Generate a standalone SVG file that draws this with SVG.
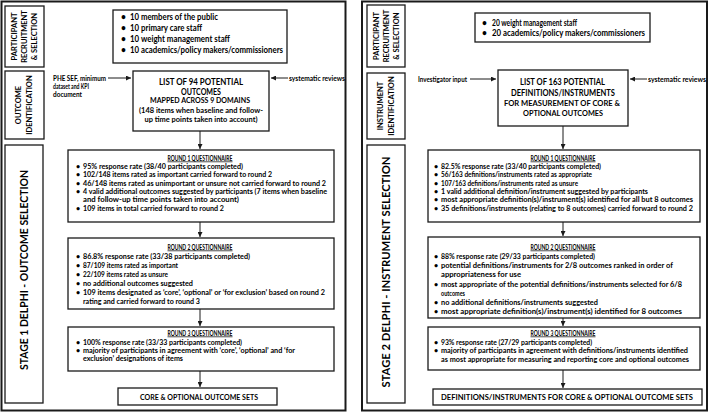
<svg xmlns="http://www.w3.org/2000/svg" width="709" height="413" viewBox="0 0 709 413">
<defs>
<style>
text{font-family:Lato,"Liberation Sans",sans-serif;font-weight:bold;fill:#000}
.s{font-size:7.2px}
.m{font-size:8.5px}
.t{font-size:7.5px}
.big{font-size:11.5px}
.h{font-size:7px;text-decoration:underline}
.box{fill:#fff;stroke:#1a1a1a;stroke-width:1.3}
.frame{fill:none;stroke:#1a1a1a;stroke-width:2}
.ln{stroke:#1a1a1a;stroke-width:1;fill:none}
</style>
<marker id="ah" viewBox="0 0 6 6" refX="6" refY="3" markerWidth="5" markerHeight="5" markerUnits="userSpaceOnUse" orient="auto"><path d="M0,0 L6,3 L0,6 z" fill="#1a1a1a"/></marker>
</defs>
<rect width="709" height="413" fill="#fff"/>
<g id="panels">
<rect class="frame" x="1.5" y="1.5" width="344" height="409"/>
<rect class="frame" x="362" y="1.5" width="345" height="409"/>
</g>
<g id="connectors">
<line class="ln" x1="108" y1="78" x2="131" y2="78" marker-end="url(#ah)"/>
<line class="ln" x1="288" y1="78" x2="271" y2="78" marker-end="url(#ah)"/>
<line class="ln" x1="200" y1="131" x2="200" y2="149" marker-end="url(#ah)"/>
<line class="ln" x1="200" y1="222" x2="200" y2="237" marker-end="url(#ah)"/>
<line class="ln" x1="200" y1="309" x2="200" y2="326" marker-end="url(#ah)"/>
<line class="ln" x1="200" y1="371" x2="200" y2="387" marker-end="url(#ah)"/>
<line class="ln" x1="470" y1="79" x2="496" y2="79" marker-end="url(#ah)"/>
<line class="ln" x1="647" y1="79" x2="630" y2="79" marker-end="url(#ah)"/>
<line class="ln" x1="563" y1="126" x2="563" y2="149" marker-end="url(#ah)"/>
<line class="ln" x1="563" y1="222" x2="563" y2="236" marker-end="url(#ah)"/>
<line class="ln" x1="563" y1="318" x2="563" y2="326" marker-end="url(#ah)"/>
<line class="ln" x1="563" y1="370" x2="563" y2="388" marker-end="url(#ah)"/>
</g>
<g id="l-participant">
<rect class="box" x="5" y="6" width="39" height="61"/>
<text class="t" text-anchor="middle" transform="translate(17.3,36.5) rotate(-90)">PARTICIPANT</text>
<text class="t" text-anchor="middle" transform="translate(27.3,36.5) rotate(-90)">RECRUITMENT</text>
<text class="t" text-anchor="middle" transform="translate(37.3,36.5) rotate(-90)">&amp; SELECTION</text>
</g>
<g id="l-outcome-id">
<rect class="box" x="5" y="71" width="39" height="68"/>
<text class="t" text-anchor="middle" transform="translate(21,105) rotate(-90)">OUTCOME</text>
<text class="t" text-anchor="middle" transform="translate(32,105) rotate(-90)">IDENTIFICATION</text>
</g>
<g id="l-stage1">
<rect class="box" x="5" y="145" width="38" height="258"/>
<text class="big" text-anchor="middle" textLength="200" lengthAdjust="spacingAndGlyphs" transform="translate(27.5,270) rotate(-90)">STAGE 1 DELPHI  -  OUTCOME  SELECTION</text>
</g>
<g id="l-members">
<rect class="box" x="113" y="10" width="174" height="53"/>
<text class="m" x="121" y="20">•</text><text class="m" x="130" y="20" textLength="88" lengthAdjust="spacingAndGlyphs">10 members of the public</text>
<text class="m" x="121" y="31">•</text><text class="m" x="130" y="31" textLength="72" lengthAdjust="spacingAndGlyphs">10 primary care staff</text>
<text class="m" x="121" y="42">•</text><text class="m" x="130" y="42" textLength="100" lengthAdjust="spacingAndGlyphs">10 weight management staff</text>
<text class="m" x="121" y="53">•</text><text class="m" x="130" y="53" textLength="153" lengthAdjust="spacingAndGlyphs">10 academics/policy makers/commissioners</text>
</g>
<g id="l-sources">
<text class="s" x="53" y="80.5" textLength="53" lengthAdjust="spacingAndGlyphs">PHE SEF, minimum</text>
<text class="s" x="53" y="88.5" textLength="36" lengthAdjust="spacingAndGlyphs">dataset and KPI</text>
<text class="s" x="53" y="96.5" textLength="29" lengthAdjust="spacingAndGlyphs">document</text>
<text class="s" x="289" y="80.5" textLength="56" lengthAdjust="spacingAndGlyphs">systematic reviews</text>
</g>
<g id="l-list">
<rect class="box" x="133" y="71" width="136" height="60"/>
<text class="m" x="201" y="84.5" text-anchor="middle" textLength="84" lengthAdjust="spacingAndGlyphs">LIST OF 94 POTENTIAL</text>
<text class="m" x="201" y="94.5" text-anchor="middle" textLength="40" lengthAdjust="spacingAndGlyphs">OUTCOMES</text>
<text class="s" x="200" y="103" text-anchor="middle" textLength="100" lengthAdjust="spacingAndGlyphs">MAPPED ACROSS 9 DOMAINS</text>
<text class="s" x="201" y="112.5" text-anchor="middle" textLength="124" lengthAdjust="spacingAndGlyphs">(148 items when baseline and follow-</text>
<text class="s" x="201" y="121.5" text-anchor="middle" textLength="113" lengthAdjust="spacingAndGlyphs">up time points taken into account)</text>
</g>
<g id="l-round1">
<rect class="box" x="68" y="150" width="266" height="72"/>
<text class="h" x="200" y="160.5" text-anchor="middle" textLength="65" lengthAdjust="spacingAndGlyphs">ROUND 1 QUESTIONNAIRE</text>
<text class="s" x="76" y="168.5">•</text><text class="s" x="83" y="168.5" textLength="160" lengthAdjust="spacingAndGlyphs">95% response rate (38/40 participants completed)</text>
<text class="s" x="76" y="177">•</text><text class="s" x="83" y="177" textLength="189" lengthAdjust="spacingAndGlyphs">102/148 items rated as important carried forward to round 2</text>
<text class="s" x="76" y="185.5">•</text><text class="s" x="83" y="185.5" textLength="243" lengthAdjust="spacingAndGlyphs">46/148 items rated as unimportant or unsure not carried forward to round 2</text>
<text class="s" x="76" y="193.5">•</text><text class="s" x="83" y="193.5" textLength="244" lengthAdjust="spacingAndGlyphs">4 valid additional outcomes suggested by participants (7 items when baseline</text>
<text class="s" x="83" y="202" textLength="156" lengthAdjust="spacingAndGlyphs">and follow-up time points taken into account)</text>
<text class="s" x="76" y="210.5">•</text><text class="s" x="83" y="210.5" textLength="141" lengthAdjust="spacingAndGlyphs">109 items in total carried forward to round 2</text>
</g>
<g id="l-round2">
<rect class="box" x="68" y="238" width="266" height="71"/>
<text class="h" x="200" y="249.5" text-anchor="middle" textLength="65" lengthAdjust="spacingAndGlyphs">ROUND 2 QUESTIONNAIRE</text>
<text class="s" x="76" y="258.5">•</text><text class="s" x="83" y="258.5" textLength="167" lengthAdjust="spacingAndGlyphs">86.8% response rate (33/38 participants completed)</text>
<text class="s" x="76" y="267.5">•</text><text class="s" x="83" y="267.5" textLength="95" lengthAdjust="spacingAndGlyphs">87/109 items rated as important</text>
<text class="s" x="76" y="277">•</text><text class="s" x="83" y="277" textLength="85" lengthAdjust="spacingAndGlyphs">22/109 items rated as unsure</text>
<text class="s" x="76" y="286">•</text><text class="s" x="83" y="286" textLength="110" lengthAdjust="spacingAndGlyphs">no additional outcomes suggested</text>
<text class="s" x="76" y="295">•</text><text class="s" x="83" y="295" textLength="242" lengthAdjust="spacingAndGlyphs">109 items designated as ‘core’, ‘optional’ or ‘for exclusion’ based on round 2</text>
<text class="s" x="83" y="304" textLength="117" lengthAdjust="spacingAndGlyphs">rating and carried forward to round 3</text>
</g>
<g id="l-round3">
<rect class="box" x="68" y="327" width="266" height="44"/>
<text class="h" x="200" y="335.5" text-anchor="middle" textLength="65" lengthAdjust="spacingAndGlyphs">ROUND 3 QUESTIONNAIRE</text>
<text class="s" x="76" y="344.5">•</text><text class="s" x="83" y="344.5" textLength="159" lengthAdjust="spacingAndGlyphs">100% response rate (33/33 participants completed)</text>
<text class="s" x="76" y="353">•</text><text class="s" x="83" y="353" textLength="212" lengthAdjust="spacingAndGlyphs">majority of participants in agreement with ‘core’, ‘optional’ and ‘for</text>
<text class="s" x="83" y="361" textLength="100" lengthAdjust="spacingAndGlyphs">exclusion’ designations of items</text>
</g>
<g id="l-core">
<rect class="box" x="118" y="388" width="159" height="17"/>
<text class="t" x="199" y="399.5" text-anchor="middle" textLength="118" lengthAdjust="spacingAndGlyphs">CORE &amp; OPTIONAL OUTCOME SETS</text>
</g>
<g id="r-participant">
<rect class="box" x="367" y="5" width="38" height="62"/>
<text class="t" text-anchor="middle" transform="translate(379,36) rotate(-90)">PARTICIPANT</text>
<text class="t" text-anchor="middle" transform="translate(389,36) rotate(-90)">RECRUITMENT</text>
<text class="t" text-anchor="middle" transform="translate(399,36) rotate(-90)">&amp; SELECTION</text>
</g>
<g id="r-instrument-id">
<rect class="box" x="367" y="73" width="38" height="66"/>
<text class="t" text-anchor="middle" transform="translate(383,106) rotate(-90)">INSTRUMENT</text>
<text class="t" text-anchor="middle" transform="translate(394,106) rotate(-90)">IDENTIFICATION</text>
</g>
<g id="r-stage2">
<rect class="box" x="367" y="145" width="38" height="258"/>
<text class="big" text-anchor="middle" textLength="231" lengthAdjust="spacingAndGlyphs" transform="translate(390,272) rotate(-90)">STAGE 2 DELPHI  -  INSTRUMENT  SELECTION</text>
</g>
<g id="r-members">
<rect class="box" x="475" y="13" width="175" height="29"/>
<text class="m" x="482" y="26">•</text><text class="m" x="492" y="26" textLength="85" lengthAdjust="spacingAndGlyphs">20 weight management staff</text>
<text class="m" x="482" y="36">•</text><text class="m" x="492" y="36" textLength="153" lengthAdjust="spacingAndGlyphs">20 academics/policy makers/commissioners</text>
</g>
<g id="r-sources">
<text class="s" x="418" y="81.5" textLength="49" lengthAdjust="spacingAndGlyphs">Investigator input</text>
<text class="s" x="648" y="81.5" textLength="58" lengthAdjust="spacingAndGlyphs">systematic reviews</text>
</g>
<g id="r-list">
<rect class="box" x="498" y="70" width="130" height="56"/>
<text class="m" x="562.5" y="85" text-anchor="middle" textLength="85" lengthAdjust="spacingAndGlyphs">LIST OF 163 POTENTIAL</text>
<text class="m" x="563" y="95.5" text-anchor="middle" textLength="104" lengthAdjust="spacingAndGlyphs">DEFINITIONS/INSTRUMENTS</text>
<text class="s" x="562" y="105.5" text-anchor="middle" textLength="116" lengthAdjust="spacingAndGlyphs">FOR MEASUREMENT OF CORE &amp;</text>
<text class="s" x="563" y="116" text-anchor="middle" textLength="80" lengthAdjust="spacingAndGlyphs">OPTIONAL OUTCOMES</text>
</g>
<g id="r-round1">
<rect class="box" x="428" y="150" width="272" height="72"/>
<text class="h" x="563" y="160.5" text-anchor="middle" textLength="65" lengthAdjust="spacingAndGlyphs">ROUND 1 QUESTIONNAIRE</text>
<text class="s" x="434" y="168.5">•</text><text class="s" x="441" y="168.5" textLength="160" lengthAdjust="spacingAndGlyphs">82.5% response rate (33/40 participants completed)</text>
<text class="s" x="434" y="177">•</text><text class="s" x="441" y="177" textLength="151" lengthAdjust="spacingAndGlyphs">56/163 definitions/instruments rated as appropriate</text>
<text class="s" x="434" y="185.5">•</text><text class="s" x="441" y="185.5" textLength="137" lengthAdjust="spacingAndGlyphs">107/163 definitions/instruments rated as unsure</text>
<text class="s" x="434" y="193.5">•</text><text class="s" x="441" y="193.5" textLength="207" lengthAdjust="spacingAndGlyphs">1 valid additional definition/instrument suggested by participants</text>
<text class="s" x="434" y="202">•</text><text class="s" x="441" y="202" textLength="252" lengthAdjust="spacingAndGlyphs">most appropriate definition(s)/instrument(s) identified for all but 8 outcomes</text>
<text class="s" x="434" y="210.5">•</text><text class="s" x="441" y="210.5" textLength="252" lengthAdjust="spacingAndGlyphs">35 definitions/instruments (relating to 8 outcomes) carried forward to round 2</text>
</g>
<g id="r-round2">
<rect class="box" x="428" y="237" width="272" height="81"/>
<text class="h" x="563" y="249.5" text-anchor="middle" textLength="65" lengthAdjust="spacingAndGlyphs">ROUND 2 QUESTIONNAIRE</text>
<text class="s" x="434" y="258.5">•</text><text class="s" x="441" y="258.5" textLength="154" lengthAdjust="spacingAndGlyphs">88% response rate (29/33 participants completed)</text>
<text class="s" x="434" y="267.5">•</text><text class="s" x="441" y="267.5" textLength="232" lengthAdjust="spacingAndGlyphs">potential definitions/instruments for 2/8 outcomes ranked in order of</text>
<text class="s" x="441" y="277" textLength="80" lengthAdjust="spacingAndGlyphs">appropriateness for use</text>
<text class="s" x="434" y="286.5">•</text><text class="s" x="441" y="286.5" textLength="241" lengthAdjust="spacingAndGlyphs">most appropriate of the potential definitions/instruments selected for 6/8</text>
<text class="s" x="441" y="295.5" textLength="24" lengthAdjust="spacingAndGlyphs">outcomes</text>
<text class="s" x="434" y="304.5">•</text><text class="s" x="441" y="304.5" textLength="157" lengthAdjust="spacingAndGlyphs">no additional definitions/instruments suggested</text>
<text class="s" x="434" y="313.5">•</text><text class="s" x="441" y="313.5" textLength="241" lengthAdjust="spacingAndGlyphs">most appropriate definition(s)/instrument(s) identified for 8 outcomes</text>
</g>
<g id="r-round3">
<rect class="box" x="428" y="327" width="272" height="43"/>
<text class="h" x="563" y="335.5" text-anchor="middle" textLength="65" lengthAdjust="spacingAndGlyphs">ROUND 3 QUESTIONNAIRE</text>
<text class="s" x="434" y="344.5">•</text><text class="s" x="441" y="344.5" textLength="151" lengthAdjust="spacingAndGlyphs">93% response rate (27/29 participants completed)</text>
<text class="s" x="434" y="353">•</text><text class="s" x="441" y="353" textLength="247" lengthAdjust="spacingAndGlyphs">majority of participants in agreement with definitions/instruments identified</text>
<text class="s" x="441" y="361.5" textLength="248" lengthAdjust="spacingAndGlyphs">as most appropriate for measuring and reporting core and optional outcomes</text>
</g>
<g id="r-final">
<rect class="box" x="433" y="389" width="269" height="16"/>
<text class="t" x="567" y="400" text-anchor="middle" textLength="252" lengthAdjust="spacingAndGlyphs">DEFINITIONS/INSTRUMENTS FOR CORE &amp; OPTIONAL OUTCOME SETS</text>
</g>
</svg>
